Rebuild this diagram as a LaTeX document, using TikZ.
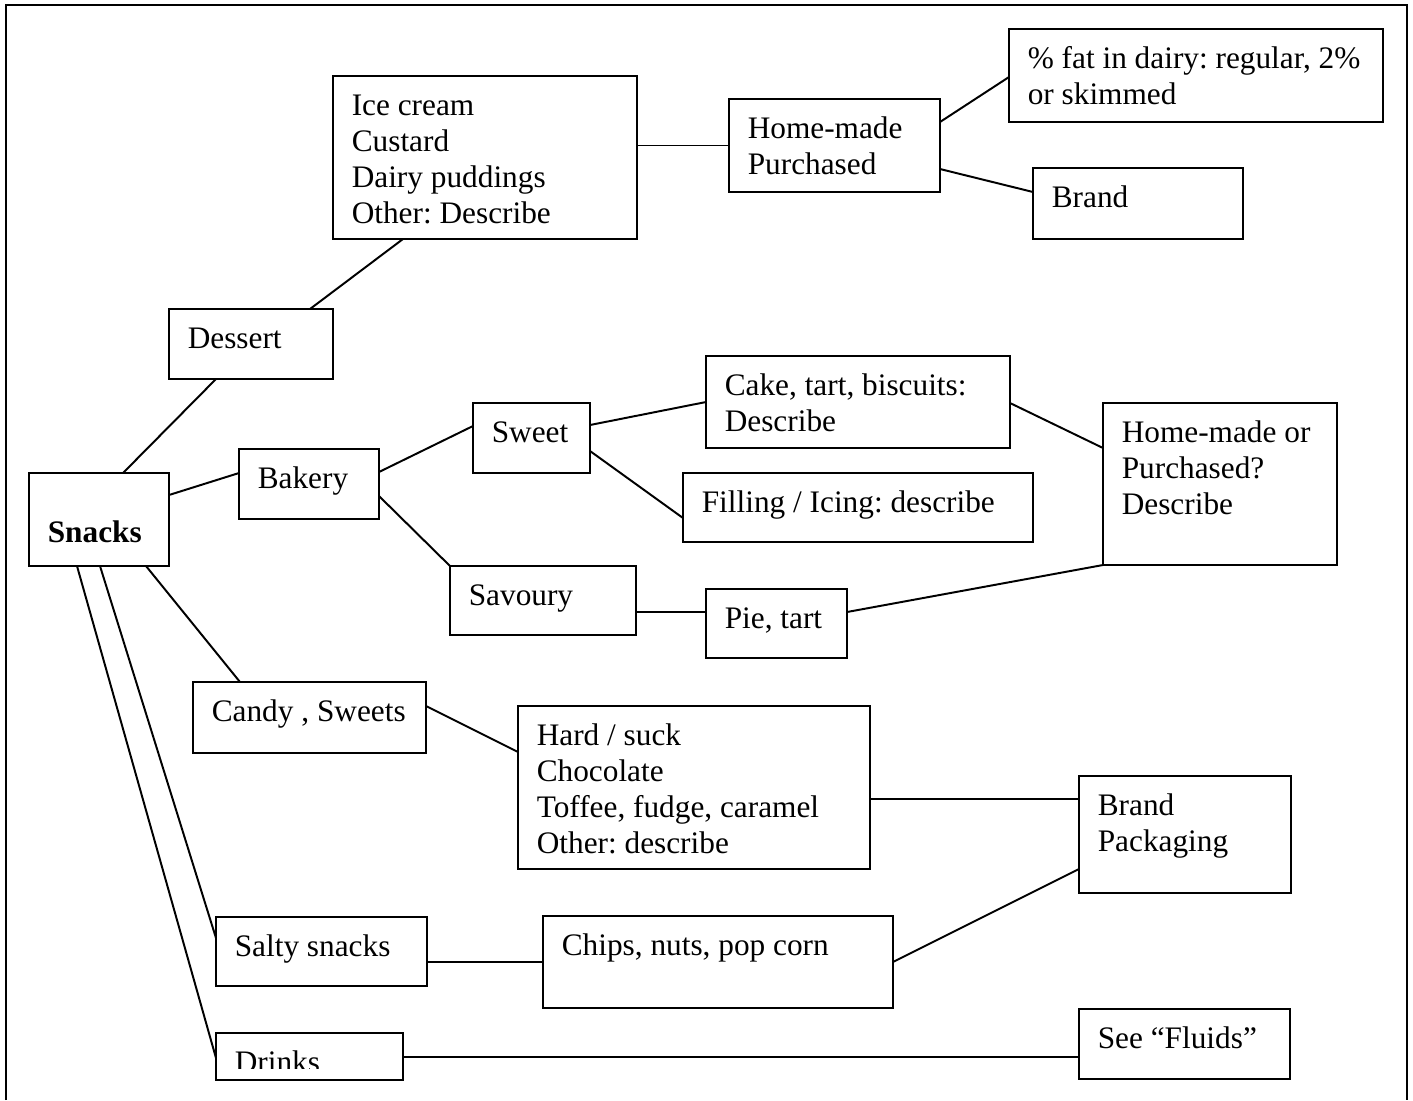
\documentclass[tikz,border=0pt]{standalone}
\usepackage{fontspec}
\setmainfont{Liberation Serif}
\usepackage{tikz}
\usetikzlibrary{calc}
\frenchspacing

\newdimen\pxu
\pxu=0.3833pt
% text inside a box of #1 x #2 (px), first line at the top
\newcommand{\boxtxt}[3]{\parbox[c][\dimexpr#2\pxu-7.2pt\relax][t]{\dimexpr#1\pxu-14.4pt\relax}{\raggedright\rule{0pt}{11.4pt}#3}}

\begin{document}
\begin{tikzpicture}[x=\pxu, y=-\pxu, line width=0.75pt, font=\fontsize{12}{13.8}\selectfont, box/.style = {draw, rectangle, anchor=north west, inner xsep=7.2pt, inner ysep=3.6pt, outer sep=0pt}, txt/.style = {anchor=north west, inner xsep=7.2pt, inner ysep=3.6pt, outer sep=0pt}]
                \useasboundingbox (0,0) rectangle (1413,1100);
                \draw (6,1100) -- (6,5) -- (1407,5) -- (1407,1100);
                \node[box] (snacks) at (29,473) {\boxtxt{140}{93}{\mbox{}\\[-2.3pt]\textbf{Snacks}}};
                \node[box] (dessert) at (169,309) {\boxtxt{164}{70}{Dessert}};
                \node[box] (icecream) at (333,76) {\boxtxt{304}{163}{Ice cream\\Custard\\Dairy puddings\\Other: Describe}};
                \node[box] (homemade) at (729,99) {\boxtxt{211}{93}{Home-made\\Purchased}};
                \node[box] (fat) at (1009,29) {\boxtxt{374}{93}{\% fat in dairy: regular, 2\%\\or skimmed}};
                \node[box] (brand) at (1033,168) {\boxtxt{210}{71}{Brand}};
                \node[box] (bakery) at (239,449) {\boxtxt{140}{70}{Bakery}};
                \node[box] (sweet) at (473,403) {\boxtxt{117}{70}{Sweet}};
                \node[box] (cake) at (706,356) {\boxtxt{304}{92}{Cake, tart, biscuits:\\Describe}};
                \node[box] (filling) at (683,473) {\boxtxt{350}{69}{Filling / Icing: describe}};
                \node[box] (hmop) at (1103,403) {\boxtxt{234}{162}{Home-made or\\Purchased?\\Describe}};
                \node[box] (savoury) at (450,566) {\boxtxt{186}{69}{Savoury}};
                \node[box] (pie) at (706,589) {\boxtxt{141}{69}{Pie, tart}};
                \node[box] (candy) at (193,682) {\boxtxt{233}{71}{Candy , Sweets}};
                \node[box] (hard) at (518,706) {\boxtxt{352}{163}{Hard / suck\\Chocolate\\Toffee, fudge, caramel\\Other: describe}};
                \node[box] (brandpack) at (1079,776) {\boxtxt{212}{117}{Brand\\Packaging}};
                \node[box] (salty) at (216,917) {\boxtxt{211}{69}{Salty snacks}};
                \node[box] (chips) at (543,916) {\boxtxt{350}{92}{Chips, nuts, pop corn}};
                \node[box] (drinks) at (216,1033) {\boxtxt{187}{47}{}};
                \node[box] (fluids) at (1079,1009) {\boxtxt{211}{70}{See “Fluids”}};
                % Drinks text is cut off at the inner margin
                \begin{scope}
                    \clip (drinks.north west) rectangle ($(drinks.south east)+(0,-12)$);
                    \node[txt] (drinkstxt) at (drinks.north west) {\boxtxt{187}{47}{Drinks}};
                \end{scope}
                \draw ($(snacks.north west)+(94,0)$) -- ($(dessert.south west)+(47,0)$);
                \draw ($(dessert.north west)+(141,0)$) -- ($(icecream.south west)+(70,0)$);
                \draw (homemade.west -| icecream.east) -- (homemade.west);
                \draw ($(homemade.north east)+(0,23)$) -- ($(fat.north west)+(0,48)$);
                \draw ($(homemade.north east)+(0,70)$) -- ($(brand.north west)+(0,24)$);
                \draw ($(snacks.north east)+(0,22)$) -- ($(bakery.north west)+(0,24)$);
                \draw ($(bakery.north east)+(0,23)$) -- ($(sweet.north west)+(0,23)$);
                \draw ($(bakery.north east)+(0,47)$) -- (savoury.north west);
                \draw ($(sweet.north east)+(0,22)$) -- ($(cake.north west)+(0,46)$);
                \draw ($(sweet.north east)+(0,48)$) -- ($(filling.north west)+(0,45)$);
                \draw ($(cake.north east)+(0,47)$) -- ($(hmop.north west)+(0,45)$);
                \draw ($(savoury.north east)+(0,46)$) -- ($(pie.north west)+(0,23)$);
                \draw ($(pie.north east)+(0,23)$) -- (hmop.south west);
                \draw ($(snacks.south west)+(117,0)$) -- ($(candy.north west)+(47,0)$);
                \draw ($(candy.north east)+(0,24)$) -- ($(hard.north west)+(0,46)$);
                \draw ($(hard.north east)+(0,93)$) -- ($(brandpack.north west)+(0,23)$);
                \draw ($(snacks.south west)+(71,0)$) -- ($(salty.north west)+(0,21)$);
                \draw ($(snacks.south west)+(48,0)$) -- ($(drinks.north west)+(0,25)$);
                \draw (chips.west -| salty.east) -- (chips.west);
                \draw ($(chips.north east)+(0,46)$) -- ($(brandpack.north west)+(0,93)$);
                \draw (drinks.east) -- (drinks.east -| fluids.west);
            \end{tikzpicture}
\end{document}
